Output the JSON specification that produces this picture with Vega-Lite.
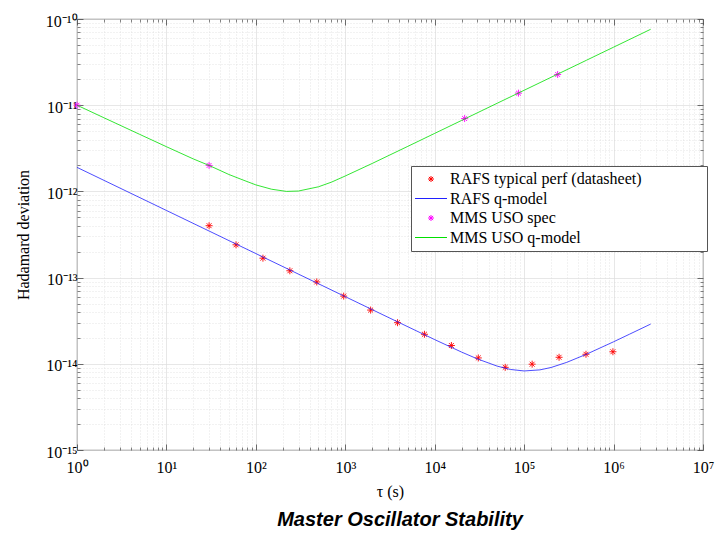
{
  "$schema": "https://vega.github.io/schema/vega-lite/v6.json",
  "width": 626,
  "height": 431,
  "autosize": {"type": "none"},
  "padding": {"left": 77, "top": 19, "right": 15, "bottom": 83},
  "background": "white",
  "config": {"view": {"stroke": "#444444", "strokeWidth": 0.8}, "font": "Liberation Serif"},
  "title": {"text": "Master Oscillator Stability", "orient": "bottom", "frame": "group", "anchor": "middle", "dx": 10, "offset": 11, "font": "Liberation Sans", "fontSize": 20, "fontWeight": "bold", "fontStyle": "italic", "color": "#000000"},
  "datasets": {
    "rafs": [
      {"series": "RAFS typical perf (datasheet)", "tau": 30, "adev": 4.0e-13},
      {"series": "RAFS typical perf (datasheet)", "tau": 60, "adev": 2.4e-13},
      {"series": "RAFS typical perf (datasheet)", "tau": 120, "adev": 1.68e-13},
      {"series": "RAFS typical perf (datasheet)", "tau": 240, "adev": 1.2e-13},
      {"series": "RAFS typical perf (datasheet)", "tau": 480, "adev": 8.9e-14},
      {"series": "RAFS typical perf (datasheet)", "tau": 960, "adev": 6.1e-14},
      {"series": "RAFS typical perf (datasheet)", "tau": 1920, "adev": 4.2e-14},
      {"series": "RAFS typical perf (datasheet)", "tau": 3840, "adev": 3.0e-14},
      {"series": "RAFS typical perf (datasheet)", "tau": 7680, "adev": 2.2e-14},
      {"series": "RAFS typical perf (datasheet)", "tau": 15360, "adev": 1.63e-14},
      {"series": "RAFS typical perf (datasheet)", "tau": 30720, "adev": 1.17e-14},
      {"series": "RAFS typical perf (datasheet)", "tau": 61440, "adev": 9.1e-15},
      {"series": "RAFS typical perf (datasheet)", "tau": 122880, "adev": 9.9e-15},
      {"series": "RAFS typical perf (datasheet)", "tau": 245760, "adev": 1.19e-14},
      {"series": "RAFS typical perf (datasheet)", "tau": 491520, "adev": 1.29e-14},
      {"series": "RAFS typical perf (datasheet)", "tau": 983040, "adev": 1.38e-14}
    ],
    "rafsModel": [
      {"series": "RAFS q-model", "tau": 1, "adev": 1.9e-12},
      {"series": "RAFS q-model", "tau": 10, "adev": 6.01e-13},
      {"series": "RAFS q-model", "tau": 100, "adev": 1.9e-13},
      {"series": "RAFS q-model", "tau": 1000, "adev": 6.01e-14},
      {"series": "RAFS q-model", "tau": 3000, "adev": 3.47e-14},
      {"series": "RAFS q-model", "tau": 10000, "adev": 1.908e-14},
      {"series": "RAFS q-model", "tau": 20000, "adev": 1.367e-14},
      {"series": "RAFS q-model", "tau": 30000, "adev": 1.14e-14},
      {"series": "RAFS q-model", "tau": 50000, "adev": 9.39e-15},
      {"series": "RAFS q-model", "tau": 70000, "adev": 8.6e-15},
      {"series": "RAFS q-model", "tau": 100000, "adev": 8.26e-15},
      {"series": "RAFS q-model", "tau": 150000, "adev": 8.5e-15},
      {"series": "RAFS q-model", "tau": 200000, "adev": 9.06e-15},
      {"series": "RAFS q-model", "tau": 300000, "adev": 1.04e-14},
      {"series": "RAFS q-model", "tau": 500000, "adev": 1.294e-14},
      {"series": "RAFS q-model", "tau": 1000000, "adev": 1.8e-14},
      {"series": "RAFS q-model", "tau": 1500000, "adev": 2.2e-14},
      {"series": "RAFS q-model", "tau": 2600000, "adev": 2.89e-14}
    ],
    "mms": [
      {"series": "MMS USO spec", "tau": 1, "adev": 1.0e-11},
      {"series": "MMS USO spec", "tau": 30, "adev": 2.0e-12},
      {"series": "MMS USO spec", "tau": 21600, "adev": 7.0e-12},
      {"series": "MMS USO spec", "tau": 86400, "adev": 1.38e-11},
      {"series": "MMS USO spec", "tau": 237000, "adev": 2.27e-11}
    ],
    "mmsModel": [
      {"series": "MMS USO q-model", "tau": 1, "adev": 1.0e-11},
      {"series": "MMS USO q-model", "tau": 2, "adev": 7.15e-12},
      {"series": "MMS USO q-model", "tau": 5, "adev": 4.6e-12},
      {"series": "MMS USO q-model", "tau": 10, "adev": 3.3e-12},
      {"series": "MMS USO q-model", "tau": 20, "adev": 2.38e-12},
      {"series": "MMS USO q-model", "tau": 30, "adev": 2.0e-12},
      {"series": "MMS USO q-model", "tau": 50, "adev": 1.57e-12},
      {"series": "MMS USO q-model", "tau": 70, "adev": 1.37e-12},
      {"series": "MMS USO q-model", "tau": 100, "adev": 1.19e-12},
      {"series": "MMS USO q-model", "tau": 150, "adev": 1.06e-12},
      {"series": "MMS USO q-model", "tau": 220, "adev": 1.0e-12},
      {"series": "MMS USO q-model", "tau": 300, "adev": 1.01e-12},
      {"series": "MMS USO q-model", "tau": 500, "adev": 1.13e-12},
      {"series": "MMS USO q-model", "tau": 700, "adev": 1.28e-12},
      {"series": "MMS USO q-model", "tau": 1000, "adev": 1.51e-12},
      {"series": "MMS USO q-model", "tau": 2000, "adev": 2.11e-12},
      {"series": "MMS USO q-model", "tau": 5000, "adev": 3.33e-12},
      {"series": "MMS USO q-model", "tau": 10000, "adev": 4.71e-12},
      {"series": "MMS USO q-model", "tau": 20000, "adev": 6.66e-12},
      {"series": "MMS USO q-model", "tau": 50000, "adev": 1.054e-11},
      {"series": "MMS USO q-model", "tau": 100000, "adev": 1.49e-11},
      {"series": "MMS USO q-model", "tau": 200000, "adev": 2.107e-11},
      {"series": "MMS USO q-model", "tau": 500000, "adev": 3.33e-11},
      {"series": "MMS USO q-model", "tau": 1000000, "adev": 4.71e-11},
      {"series": "MMS USO q-model", "tau": 2600000, "adev": 7.6e-11}
    ]
  },
  "resolve": {"axis": {"x": "independent", "y": "independent"}},
  "layer": [
    {
      "data": {"name": "rafs"},
      "mark": {"type": "point", "filled": false, "size": 49, "strokeWidth": 0.9, "opacity": 1, "clip": false},
      "encoding": {
        "x": {"field": "tau", "type": "quantitative", "scale": {"type": "log", "domain": [1, 10000000], "nice": false},
          "axis": {"orient": "bottom", "values": [1, 10, 100, 1000, 10000, 100000, 1000000, 10000000], "grid": true, "gridColor": "#dcdcdc", "gridWidth": 0.7, "domain": false, "tickSize": -6, "tickColor": "#333333", "tickWidth": 0.7,
            "labelExpr": "'10' + ['⁰','¹','²','³','⁴','⁵','⁶','⁷'][round(log(datum.value)/LN10)]",
            "labelFont": "Liberation Serif", "labelFontSize": 16, "labelColor": "#000000", "labelPadding": 15, "labelFlush": false, "labelOverlap": false,
            "title": "τ (s)", "titleFont": "Liberation Serif", "titleFontSize": 16, "titleFontWeight": "normal", "titleColor": "#000000", "titlePadding": 8}},
        "y": {"field": "adev", "type": "quantitative", "scale": {"type": "log", "domain": [1e-15, 1e-10], "nice": false},
          "axis": {"orient": "left", "values": [1e-15, 1e-14, 1e-13, 1e-12, 1e-11, 1e-10], "grid": true, "gridColor": "#dcdcdc", "gridWidth": 0.7, "domain": false, "tickSize": -6, "tickColor": "#333333", "tickWidth": 0.7,
            "labelExpr": "'10⁻¹' + ['⁰','¹','²','³','⁴','⁵'][-round(log(datum.value)/LN10)-10]",
            "labelFont": "Liberation Serif", "labelFontSize": 16, "labelColor": "#000000", "labelPadding": 6, "labelOffset": 2, "labelFlush": false, "labelOverlap": false,
            "title": "Hadamard deviation", "titleFont": "Liberation Serif", "titleFontSize": 16, "titleFontWeight": "normal", "titleColor": "#000000", "titlePadding": 14}},
        "color": {"field": "series", "type": "nominal",
          "scale": {"domain": ["RAFS typical perf (datasheet)", "RAFS q-model", "MMS USO spec", "MMS USO q-model"], "range": ["#ff0000", "#2020ff", "#ff00ff", "#00e000"]},
          "legend": {"orient": "none", "legendX": 334, "legendY": 147, "title": null, "padding": 5, "rowPadding": 3.5,
            "fillColor": "white", "strokeColor": "#555555", "labelFont": "Liberation Serif", "labelFontSize": 16, "labelColor": "#000000", "labelOffset": 11, "symbolOffset": 7, "symbolSize": 36, "symbolStrokeWidth": 1, "labelLimit": 400,
            "labelExpr": "datum.label == 'RAFS typical perf (datasheet)' ? datum.label + '\u00a0\u00a0\u00a0\u00a0\u00a0\u00a0\u00a0\u00a0\u00a0\u00a0\u00a0\u00a0\u2800' : datum.label"}
        },
        "shape": {"field": "series", "type": "nominal",
          "scale": {"domain": ["RAFS typical perf (datasheet)", "RAFS q-model", "MMS USO spec", "MMS USO q-model"],
            "range": ["M0,-1L0,1M-1,0L1,0M-0.7,-0.7L0.7,0.7M-0.7,0.7L0.7,-0.7", "M-5.33,0L5.33,0", "M0,-1L0,1M-1,0L1,0M-0.7,-0.7L0.7,0.7M-0.7,0.7L0.7,-0.7", "M-5.33,0L5.33,0"]}}
      }
    },
    {
      "data": {"name": "rafsModel"},
      "mark": {"type": "line", "strokeWidth": 0.8, "clip": false},
      "encoding": {
        "x": {"field": "tau", "type": "quantitative", "scale": {"type": "log", "domain": [1, 10000000], "nice": false},
          "axis": {"orient": "bottom", "values": [2,3,4,5,6,7,8,9,20,30,40,50,60,70,80,90,200,300,400,500,600,700,800,900,2000,3000,4000,5000,6000,7000,8000,9000,20000,30000,40000,50000,60000,70000,80000,90000,200000,300000,400000,500000,600000,700000,800000,900000,2000000,3000000,4000000,5000000,6000000,7000000,8000000,9000000],
            "grid": true, "gridColor": "#d4d4d4", "gridWidth": 0.6, "gridDash": [1, 2], "domain": false, "tickSize": -3, "tickColor": "#333333", "tickWidth": 0.6, "labels": false, "title": null}},
        "y": {"field": "adev", "type": "quantitative", "scale": {"type": "log", "domain": [1e-15, 1e-10], "nice": false},
          "axis": {"orient": "left", "values": [2e-15,3e-15,4e-15,5e-15,6e-15,7e-15,8e-15,9e-15,2e-14,3e-14,4e-14,5e-14,6e-14,7e-14,8e-14,9e-14,2e-13,3e-13,4e-13,5e-13,6e-13,7e-13,8e-13,9e-13,2e-12,3e-12,4e-12,5e-12,6e-12,7e-12,8e-12,9e-12,2e-11,3e-11,4e-11,5e-11,6e-11,7e-11,8e-11,9e-11],
            "grid": true, "gridColor": "#d4d4d4", "gridWidth": 0.6, "gridDash": [1, 2], "domain": false, "tickSize": -3, "tickColor": "#333333", "tickWidth": 0.6, "labels": false, "title": null}},
        "color": {"field": "series", "type": "nominal"}
      }
    },
    {
      "data": {"name": "mms"},
      "mark": {"type": "point", "filled": false, "size": 49, "strokeWidth": 0.9, "opacity": 1, "clip": false},
      "encoding": {
        "x": {"field": "tau", "type": "quantitative", "scale": {"type": "log", "domain": [1, 10000000], "nice": false},
          "axis": {"orient": "top", "values": [1, 10, 100, 1000, 10000, 100000, 1000000, 10000000], "grid": false, "domain": false, "tickSize": -6, "tickColor": "#333333", "tickWidth": 0.7, "labels": false, "title": null}},
        "y": {"field": "adev", "type": "quantitative", "scale": {"type": "log", "domain": [1e-15, 1e-10], "nice": false},
          "axis": {"orient": "right", "values": [1e-15, 1e-14, 1e-13, 1e-12, 1e-11, 1e-10], "grid": false, "domain": false, "tickSize": -6, "tickColor": "#333333", "tickWidth": 0.7, "labels": false, "title": null}},
        "color": {"field": "series", "type": "nominal"},
        "shape": {"field": "series", "type": "nominal"}
      }
    },
    {
      "data": {"name": "mmsModel"},
      "mark": {"type": "line", "strokeWidth": 0.8, "clip": false},
      "encoding": {
        "x": {"field": "tau", "type": "quantitative", "scale": {"type": "log", "domain": [1, 10000000], "nice": false},
          "axis": {"orient": "top", "values": [2,3,4,5,6,7,8,9,20,30,40,50,60,70,80,90,200,300,400,500,600,700,800,900,2000,3000,4000,5000,6000,7000,8000,9000,20000,30000,40000,50000,60000,70000,80000,90000,200000,300000,400000,500000,600000,700000,800000,900000,2000000,3000000,4000000,5000000,6000000,7000000,8000000,9000000],
            "grid": false, "domain": false, "tickSize": -3, "tickColor": "#333333", "tickWidth": 0.6, "labels": false, "title": null}},
        "y": {"field": "adev", "type": "quantitative", "scale": {"type": "log", "domain": [1e-15, 1e-10], "nice": false},
          "axis": {"orient": "right", "values": [2e-15,3e-15,4e-15,5e-15,6e-15,7e-15,8e-15,9e-15,2e-14,3e-14,4e-14,5e-14,6e-14,7e-14,8e-14,9e-14,2e-13,3e-13,4e-13,5e-13,6e-13,7e-13,8e-13,9e-13,2e-12,3e-12,4e-12,5e-12,6e-12,7e-12,8e-12,9e-12,2e-11,3e-11,4e-11,5e-11,6e-11,7e-11,8e-11,9e-11],
            "grid": false, "domain": false, "tickSize": -3, "tickColor": "#333333", "tickWidth": 0.6, "labels": false, "title": null}},
        "color": {"field": "series", "type": "nominal"}
      }
    }
  ]
}
